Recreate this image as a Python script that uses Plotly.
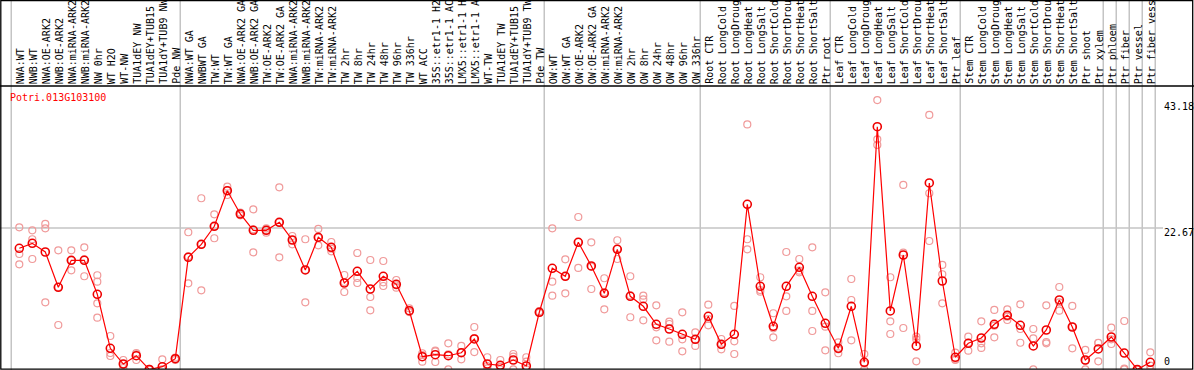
import plotly.graph_objects as go

W, H = 1194, 370

gene = "Potri.013G103100"

labels = ["NWA:WT", "NWB:WT", "NWA:OE-ARK2", "NWB:OE-ARK2", "NWA:miRNA-ARK2", "NWB:miRNA-ARK2",
          "NW 0hr", "WT H2O", "WT-NW", "TUA1dEY NW", "TUA1dEY+TUB15", "TUA1dY+TUB9 NW", "Pde NW",
          "NWA:WT GA", "NWBWT GA", "TW:WT", "TW:WT GA", "NWA:OE-ARK2 GA", "NWB:OE-ARK2 GA",
          "TW:OE-ARK2", "TW:OE-ARK2 GA", "NWA:miRNA-ARK2", "NWB:miRNA-ARK2", "TW:miRNA-ARK2",
          "TW:miRNA-ARK2", "TW 2hr", "TW 8hr", "TW 24hr", "TW 48hr", "TW 96hr", "TW 336hr",
          "WT ACC", "35S::etr1-1 H2", "35S::etr1-1 AC", "LMX5::etr1-1 H", "LMX5::etr1-1 A",
          "WT-TW", "TUA1dEY TW", "TUA1dEY+TUB15", "TUA1dY+TUB9 TW", "Pde TW",
          "OW:WT", "OW:WT GA", "OW:OE-ARK2", "OW:OE-ARK2 GA", "OW:miRNA-ARK2", "OW:miRNA-ARK2",
          "OW 2hr", "OW 8hr", "OW 24hr", "OW 48hr", "OW 96hr", "OW 336hr",
          "Root CTR", "Root LongCold", "Root LongDroug", "Root LongHeat", "Root LongSalt",
          "Root ShortCold", "Root ShortDrou", "Root ShortHeat", "Root ShortSalt", "Ptr root",
          "Leaf CTR", "Leaf LongCold", "Leaf LongDroug", "Leaf LongHeat", "Leaf LongSalt",
          "Leaf ShortCold", "Leaf ShortDrou", "Leaf ShortHeat", "Leaf ShortSalt", "Ptr leaf",
          "Stem CTR", "Stem LongCold", "Stem LongDroug", "Stem LongHeat", "Stem LongSalt",
          "Stem ShortCold", "Stem ShortDrou", "Stem ShortHeat", "Stem ShortSalt",
          "Ptr shoot", "Ptr xylem", "Ptr phloem", "Ptr fiber", "Ptr vessel", "Ptr fiber vess"]

means = [19.42, 20.22, 18.83, 13.17, 17.50, 17.50, 12.05, 3.40, 0.88, 2.21,
         0.00, 0.45, 1.73, 17.98, 20.06, 22.95, 28.65, 24.92, 22.31, 22.31,
         23.59, 20.75, 15.95, 21.19, 19.58, 13.86, 15.74, 12.90, 14.94, 13.65,
         9.42, 2.05, 2.37, 2.21, 2.69, 4.89, 0.88, 0.67, 1.52, 0.56,
         9.17, 16.22, 14.94, 20.38, 16.59, 12.21, 19.26, 11.73, 10.13, 7.24,
         6.49, 5.64, 4.84, 8.53, 4.04, 5.64, 26.47, 13.33, 6.92, 13.33,
         16.38, 11.73, 7.40, 3.40, 10.13, 1.15, 38.91, 9.38, 18.35, 3.77,
         29.89, 14.18, 1.96, 4.20, 5.05, 7.24, 8.69, 7.08, 3.77, 6.33,
         11.14, 6.81, 1.52, 3.29, 5.21, 2.64, 0.00, 1.15]

rep_a = [22.79, 22.31, 23.32, 19.10, 19.10, 19.58, 15.10, 5.37, 1.52, 2.64,
         0.10, 1.63, 1.92, 21.99, 27.44, 24.87, 29.29, 25.13, 25.67, 22.63,
         29.20, 21.39, 20.87, 22.52, 20.43, 15.14, 18.67, 17.55, 17.39, 14.34,
         9.81, 2.60, 3.01, 4.20, 3.77, 6.81, 1.96, 1.52, 2.48, 1.96,
         9.34, 22.63, 17.66, 24.44, 20.38, 14.62, 20.71, 14.94, 11.83, 10.29,
         7.66, 9.17, 5.96, 10.38, 4.89, 10.18, 39.28, 14.78, 9.01, 18.83,
         17.71, 19.58, 12.37, 4.36, 14.50, 2.48, 43.18, 14.78, 29.57, 5.26,
         40.79, 16.75, 2.69, 5.26, 7.72, 9.54, 9.65, 10.45, 6.49, 10.29,
         13.22, 10.18, 3.13, 4.29, 6.70, 7.77, 0.03, 2.76]

rep_b = [18.51, 20.87, 22.63, 13.22, 17.50, 17.66, 14.07, 2.64, 0.88, 2.48,
         0.00, 0.03, 1.73, 18.14, 20.05, 22.95, 28.69, 24.92, 22.47, 22.36,
         23.59, 20.75, 15.95, 21.14, 19.36, 14.02, 14.66, 11.62, 13.97, 13.49,
         9.26, 2.32, 2.92, 2.42, 2.69, 5.05, 0.56, 0.45, 2.05, 1.25,
         9.17, 14.07, 14.94, 20.43, 16.47, 12.37, 19.36, 11.89, 11.25, 6.76,
         7.29, 4.84, 4.79, 8.09, 3.97, 4.52, 20.87, 12.74, 6.60, 11.73,
         15.83, 9.38, 6.86, 3.24, 11.14, 0.93, 36.89, 7.72, 18.72, 4.84,
         28.24, 15.26, 1.63, 4.29, 4.20, 7.02, 8.46, 6.49, 5.00, 4.41,
         10.77, 6.86, 1.41, 4.25, 4.84, 0.13, 0.00, 0.61]

rep_c = [16.86, 17.71, 10.77, 7.13, 15.90, 14.94, 10.61, 2.16, 0.24, 1.52,
         0.00, 0.00, 1.52, 13.81, 12.69, 21.03, 27.96, 24.71, 18.78, 21.92,
         17.98, 20.06, 10.77, 19.90, 18.94, 12.42, 13.86, 9.49, 13.38, 13.11,
         9.21, 1.25, 1.20, 0.03, 1.63, 2.80, 0.19, 0.03, 0.03, 0.00,
         9.05, 11.83, 12.21, 16.27, 12.90, 9.65, 17.71, 8.37, 7.88, 4.68,
         4.46, 2.92, 3.77, 7.08, 3.24, 2.48, 19.26, 12.47, 5.16, 9.38,
         15.58, 6.17, 3.08, 2.60, 4.68, 0.03, 35.98, 5.69, 6.65, 1.31,
         20.59, 10.61, 1.52, 3.01, 3.45, 5.16, 7.93, 4.29, 0.03, 4.20,
         9.42, 3.40, 0.03, 1.31, 4.09, 0.03, 0.00, 0.03]

extra_rep_index = [6]
extra_rep_value = [8.30]

axis_labels = ["43.18", "22.67", "0"]
axis_values = [43.18, 22.67, 0.0]
grid_value = 22.67

group_starts = [0, 13, 41, 53, 63, 73, 84, 85, 86, 87, 88]

n = len(labels)
idx = list(range(n))

rep_x = idx * 3 + extra_rep_index
rep_y = rep_a + rep_b + rep_c + extra_rep_value

fig = go.Figure()
fig.add_trace(go.Scatter(
    x=rep_x, y=rep_y, mode="markers",
    marker=dict(symbol="circle-open", size=7, color="#f09a9a", line=dict(width=1.2)),
    hoverinfo="skip", showlegend=False))
fig.add_trace(go.Scatter(
    x=idx, y=means, mode="lines+markers",
    line=dict(color="#ff0000", width=1.2),
    marker=dict(symbol="circle-open", size=8, color="#ee0000", line=dict(width=1.6)),
    text=labels, showlegend=False))

shapes = []
for b in group_starts:
    shapes.append(dict(type="line", xref="x", yref="paper", x0=b - 0.62, x1=b - 0.62,
                       y0=0, y1=1, line=dict(color="#c4c4c4", width=1.5), layer="below"))
shapes.append(dict(type="line", xref="paper", yref="y", x0=0, x1=1163 / W,
                   y0=grid_value, y1=grid_value, line=dict(color="#c4c4c4", width=1.5), layer="below"))
# frame and header separator
shapes.append(dict(type="rect", xref="paper", yref="paper", x0=0.8 / W, x1=1192.7 / W,
                   y0=0.8 / H, y1=(H - 0.6) / H, line=dict(color="black", width=1.3)))
shapes.append(dict(type="line", xref="paper", yref="paper", x0=0, x1=1,
                   y0=(H - 86) / H, y1=(H - 86) / H, line=dict(color="black", width=1.3)))

annotations = []
for i, lab in enumerate(labels):
    annotations.append(dict(x=i, xref="x", y=(H - 85) / H, yref="paper", text=lab,
                            showarrow=False, textangle=-90, xanchor="center", yanchor="bottom",
                            xshift=1,
                            font=dict(family="DejaVu Sans Mono", size=10, color="black"),
                            borderpad=0))
annotations.append(dict(x=8 / W, xref="paper", y=(H - 97) / H, yref="paper", text=gene,
                        showarrow=False, xanchor="left", yanchor="middle",
                        font=dict(family="DejaVu Sans Mono", size=10, color="#ff0000")))
label_px = [106.7, 232.7, 361.7]
for lab, py in zip(axis_labels, label_px):
    annotations.append(dict(x=1162 / W, xref="paper", y=(H - py) / H, yref="paper", text=lab,
                            showarrow=False, xanchor="left", yanchor="middle",
                            font=dict(family="DejaVu Sans Mono", size=10, color="black")))

fig.update_layout(
    width=W, height=H,
    margin=dict(l=0, r=0, t=0, b=0, pad=0, autoexpand=False),
    paper_bgcolor="white", plot_bgcolor="white",
    xaxis=dict(domain=[1 / W, 1193 / W], range=[-1.408, 90.285], visible=False, fixedrange=True),
    yaxis=dict(domain=[1 / H, 283 / H], range=[0.08, 45.27], visible=False, fixedrange=True),
    shapes=shapes, annotations=annotations,
    font=dict(family="DejaVu Sans Mono", size=10),
)

fig.write_html("out.html", config={"displayModeBar": False},
               post_script="document.body.style.margin='0';document.body.style.overflow='hidden';")
